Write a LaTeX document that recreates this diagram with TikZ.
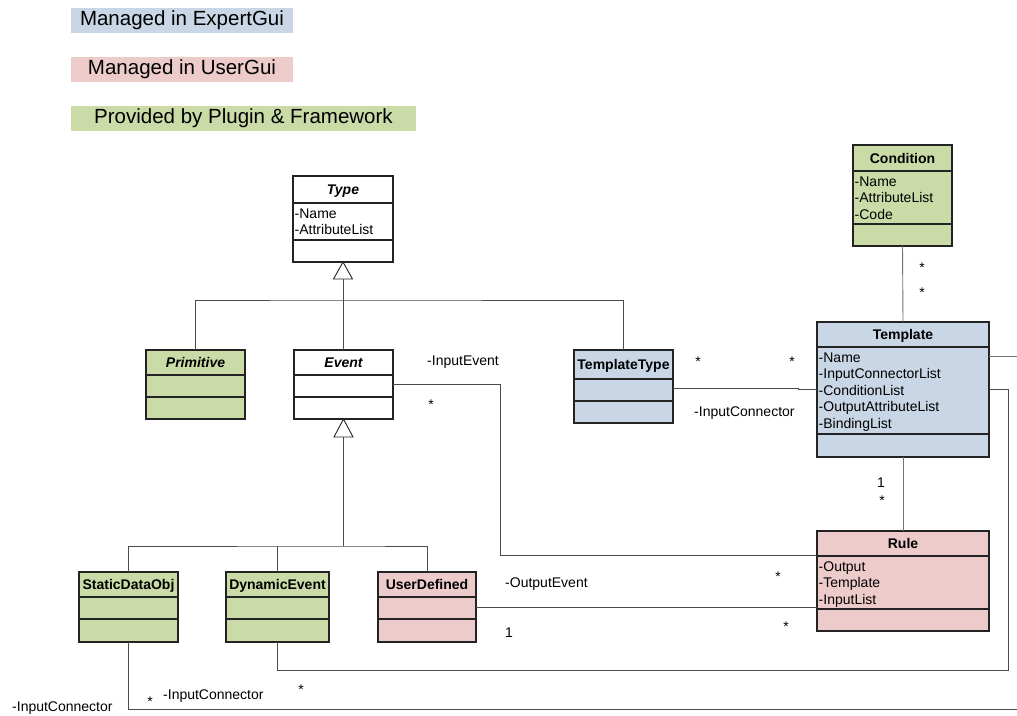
\documentclass[tikz,border=0pt]{standalone}
\usepackage{fontspec}
\setmainfont{Liberation Sans}
\usetikzlibrary{fit,calc}

\definecolor{expert}{RGB}{201,214,229}
\definecolor{usergui}{RGB}{237,203,203}
\definecolor{plugin}{RGB}{203,219,168}
\definecolor{edgecol}{RGB}{35,35,35}
\definecolor{wirecol}{RGB}{75,75,75}
\definecolor{wirelight}{RGB}{115,115,115}

\tikzset{
  classbox/.style={draw=edgecol, line width=1.2pt, inner sep=0pt, outer sep=0pt},
  divider/.style={draw=edgecol, line width=1.2pt},
  wire/.style={draw=wirecol, line width=0.9pt},
  lightwire/.style={draw=wirelight, line width=0.9pt},
  genhead/.style={draw=edgecol, line width=0.9pt, fill=white, line join=miter},
  lbl/.style={font=\fontsize{14}{16.6}\selectfont, inner sep=0pt},
  mult/.style={font=\fontsize{14}{16.6}\selectfont, inner sep=0pt, anchor=center},
  classtitle/.style={font=\fontsize{14}{16.6}\selectfont\bfseries, inner sep=0pt, anchor=base},
  legendbox/.style={font=\fontsize{20.5}{24}\selectfont, inner sep=0pt, minimum height=25pt},
}

% #1 name, #2 left, #3 top, #4 right, #5 bottom, #6 title rule, #7 attribute rule, #8 fill, #9 title
\newcommand\umlclass[9]{%
  \node[classbox, fill=#8, fit={(#2,#3) (#4,#5)}] (#1) {};
  \draw[divider] (#2,#6) -- (#4,#6);
  \draw[divider] (#2,#7) -- (#4,#7);
  \node[classtitle] (#1-title) at ({(#2+#4)/2}, {(#3+#6)/2+5}) {#9};
}
% #1 name, #2 left, #3 title rule, #4 attribute list
\newcommand\umlattrs[4]{%
  \foreach \a [count=\i] in {#4}
    \node[lbl, anchor=base west] (#1-a\i) at (#2+1.5, {#3+15+16.6*(\i-1)}) {\a};
}

\begin{document}
\begin{tikzpicture}[x=1pt,y=-1pt]
\fill[white] (0,0) rectangle (1017,715);
\useasboundingbox (0,0) rectangle (1017,715);

% legend
\node[legendbox, fill=expert, minimum width=222pt] (lgexpert) at (182,20.5) {Managed in ExpertGui};
\node[legendbox, fill=usergui, minimum width=222pt] (lguser) at (182,69.5) {Managed in UserGui};
\node[legendbox, fill=plugin, minimum width=345pt] (lgplugin) at (243.5,118.5) {Provided by Plugin \& Framework};

% classes
\umlclass{type}{293}{176}{393}{262}{203}{240}{white}{\itshape Type}
\umlattrs{type}{293}{203}{-Name,-AttributeList}
\umlclass{primitive}{146}{350}{245}{419}{375}{397}{plugin}{\itshape Primitive}
\umlclass{event}{294}{350}{393}{419}{375}{397}{white}{\itshape Event}
\umlclass{templatetype}{574}{350}{673}{423}{379}{401}{expert}{TemplateType}
\umlclass{condition}{853}{145}{952}{246}{171}{224}{plugin}{Condition}
\umlattrs{condition}{853}{171}{-Name,-AttributeList,-Code}
\umlclass{template}{817}{322}{989}{457}{347}{434}{expert}{Template}
\umlattrs{template}{817}{347}{-Name,-InputConnectorList,-ConditionList,-OutputAttributeList,-BindingList}
\umlclass{rule}{817}{531}{989}{631}{556}{609}{usergui}{Rule}
\umlattrs{rule}{817}{556}{-Output,-Template,-InputList}
\umlclass{staticdataobj}{79}{572}{178}{642}{597}{619}{plugin}{StaticDataObj}
\umlclass{dynamicevent}{226}{572}{329}{642}{597}{619}{plugin}{DynamicEvent}
\umlclass{userdefined}{378}{572}{476}{642}{597}{619}{usergui}{UserDefined}

% generalization: Type
\coordinate (genA) at (343,300);
\draw[wire] ($(type.south)+(0,17)$) -- (type.south |- genA);
\draw[wire] (primitive.north) |- (genA) -| (templatetype.north);
\draw[wire] (event.north) -- (event.north |- genA);
\draw[genhead] (type.south) -- ++(-9.5,17) -- ++(19,0) -- cycle;

% generalization: Event
\coordinate (genB) at (343.5,546);
\draw[wire] ($(event.south)+(0,18)$) -- (genB);
\draw[wire] (staticdataobj.north) |- (genB) -| (userdefined.north);
\draw[wire] (dynamicevent.north) -- (dynamicevent.north |- genB);
\draw[genhead] (event.south) -- ++(-9.5,18) -- ++(19,0) -- cycle;

% associations
\draw[lightwire] (condition.south) -- (template.north);
\draw[lightwire] (template.south) -- (rule.north);

\coordinate (ttjog) at (798,388);
\draw[wire] (templatetype.east |- ttjog) -- (ttjog) |- (template.west);

\coordinate (inevent) at (500,555);
\draw[wire] (event.east) -| (inevent) -- (rule.west |- inevent);

\draw[wire] (userdefined.east) -- (rule.west |- userdefined.east);

\coordinate (tplout) at (1017,356);
\draw[lightwire] (template.east |- tplout) -- (tplout);

\coordinate (condloop) at (1008,670);
\draw[wire] (template.east) -| (condloop) -- (dynamicevent.south |- condloop) -- (dynamicevent.south);

\coordinate (staticout) at (1017,709);
\draw[wire] (staticdataobj.south) |- (staticout);

% role names and multiplicities
\node[lbl, anchor=base west] (rInEvent) at (427,365) {-InputEvent};
\node[mult] (mInEvent) at (431,405) {*};
\node[mult] (mTT1) at (698,362) {*};
\node[mult] (mTT2) at (792,362) {*};
\node[lbl, anchor=base west] (rTTConn) at (694,416) {-InputConnector};
\node[mult] (mCond1) at (922,268) {*};
\node[mult] (mCond2) at (922,293) {*};
\node[lbl, anchor=base] (mTpl1) at (881,487) {1};
\node[mult] (mTpl2) at (882,501) {*};
\node[lbl, anchor=base west] (rOutEvent) at (505,587) {-OutputEvent};
\node[lbl, anchor=base] (mUser1) at (509,637) {1};
\node[mult] (mRule1) at (778,577) {*};
\node[mult] (mRule2) at (786,627) {*};
\node[lbl, anchor=base west] (rStatConn) at (12,711) {-InputConnector};
\node[mult] (mStat) at (150,702) {*};
\node[lbl, anchor=base west] (rDynConn) at (163,699) {-InputConnector};
\node[mult] (mDyn) at (301,690) {*};
\end{tikzpicture}
\end{document}
